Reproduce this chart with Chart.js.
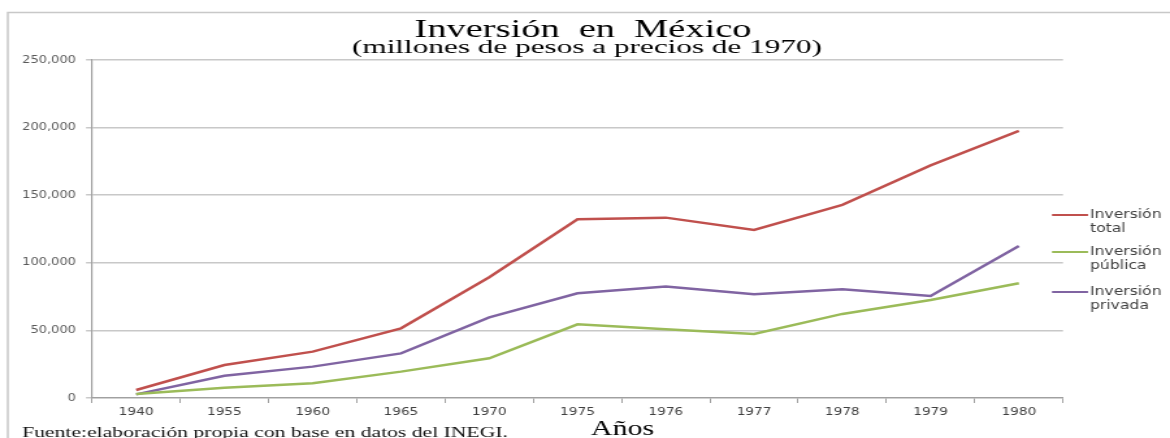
<html>
<head>
    <script src="https://cdn.jsdelivr.net/npm/chart.js@4.4.0/dist/chart.umd.min.js"></script>
    <style>
        body { margin: 0; background: #fff; }
    </style>
</head>

<body>
    <!-- the original image is stretched horizontally, so the canvas is drawn narrower and stretched with css -->
    <canvas id="myChart" width="900" height="438" style="width:1170px;height:438px"></canvas>
    <script>
        // valores (millones de pesos de 1970)
        const years = ['1940', '1955', '1960', '1965', '1970', '1975', '1976', '1977', '1978', '1979', '1980']
        const total = [5900, 24400, 34300, 51500, 89300, 132200, 133400, 124300, 142800, 172000, 197500]
        const publica = [3000, 7600, 10900, 19500, 29400, 54500, 50800, 47400, 62200, 72500, 84900]
        const privada = [2700, 16500, 23200, 33000, 59700, 77500, 82400, 76700, 80400, 75500, 112500]
        const seriesNames = [['Inversión', 'total'], ['Inversión', 'pública'], ['Inversión', 'privada']]
        const colors = ['#c0504d', '#9bbb59', '#8064a2']

        const SX = 1170 / 900
        const serif = '"Liberation Serif", "Times New Roman", serif'
        const sans = '"DejaVu Sans", Verdana, sans-serif'

        // texto serif ajustado a un ancho dado (en px de pantalla)
        function wideText(ctx, text, x, y, width, align) {
            const w = ctx.measureText(text).width
            const iw = width / SX
            ctx.save()
            ctx.textAlign = 'left'
            const x0 = align === 'left' ? x / SX : x / SX - iw / 2
            ctx.translate(x0, y)
            ctx.scale(iw / w, 1)
            ctx.fillText(text, 0, 0)
            ctx.restore()
        }

        // titulo, nota, marco y leyenda dibujados a mano
        const decorations = {
            id: 'decorations',
            beforeDraw(chart) {
                const ctx = chart.ctx
                ctx.save()
                ctx.strokeStyle = '#c8c8c8'
                ctx.lineWidth = 1.5
                ctx.strokeRect(6, 12.5, 1200, 500)
                ctx.restore()
            },
            afterDraw(chart) {
                const ctx = chart.ctx
                const area = chart.chartArea
                ctx.save()
                ctx.fillStyle = '#000'
                ctx.textBaseline = 'alphabetic'
                ctx.font = '25px ' + serif
                wideText(ctx, 'Inversión  en  México', 583, 37, 337)
                ctx.font = '19px ' + serif
                wideText(ctx, '(millones de pesos a precios de 1970)', 587, 53, 470)

                ctx.font = '21px ' + serif
                wideText(ctx, 'Años', (area.left + area.right) / 2 * SX + 45, 435, 63)

                ctx.font = '14px ' + serif
                ctx.fillStyle = '#111'
                wideText(ctx, 'Fuente:elaboración propia con base en datos del INEGI.', 22, 437, 486, 'left')

                // leyenda
                const lx = area.right - 11 / SX
                const ys = [215, 252, 292]
                ctx.font = '12px ' + sans
                ctx.fillStyle = '#404040'
                ctx.textAlign = 'left'
                ctx.textBaseline = 'middle'
                seriesNames.forEach((name, i) => {
                    ctx.strokeStyle = colors[i]
                    ctx.lineWidth = 2
                    ctx.beginPath()
                    ctx.moveTo(lx, ys[i])
                    ctx.lineTo(lx + 36 / SX, ys[i])
                    ctx.stroke()
                    ctx.fillText(name[0], lx + 38 / SX, ys[i])
                    ctx.fillText(name[1], lx + 38 / SX, ys[i] + 14)
                })
                ctx.restore()
            }
        }

        const ctx = document.getElementById('myChart').getContext('2d')
        const myChart = new Chart(ctx, {
            type: 'line',
            data: {
                labels: years,
                datasets: [{
                    label: 'Inversión total',
                    data: total,
                    borderColor: colors[0],
                    borderWidth: 2.5,
                    pointRadius: 0,
                    fill: false
                }, {
                    label: 'Inversión pública',
                    data: publica,
                    borderColor: colors[1],
                    borderWidth: 2.5,
                    pointRadius: 0,
                    fill: false
                }, {
                    label: 'Inversión privada',
                    data: privada,
                    borderColor: colors[2],
                    borderWidth: 2.5,
                    pointRadius: 0,
                    fill: false
                }]
            },
            options: {
                responsive: false,
                animation: false,
                devicePixelRatio: 1,
                layout: { padding: { left: 0, right: 107 / SX, top: 60, bottom: 0 } },
                plugins: {
                    legend: { display: false },
                    tooltip: { enabled: false }
                },
                scales: {
                    x: {
                        offset: true,
                        grid: {
                            offset: true,
                            drawOnChartArea: false,
                            color: '#a0a0a0',
                            tickLength: 5
                        },
                        border: { color: '#a0a0a0', width: 1.2 },
                        ticks: {
                            font: { family: sans, size: 10.5 },
                            color: '#404040',
                            padding: 3,
                            maxRotation: 0
                        },
                        afterFit(scale) { scale.height = 40 }
                    },
                    y: {
                        min: 0,
                        max: 250000,
                        ticks: {
                            stepSize: 50000,
                            font: { family: sans, size: 10 },
                            color: '#595959',
                            padding: 10 / SX,
                            callback: v => v.toLocaleString('en-US')
                        },
                        grid: { color: '#c8c8c8', lineWidth: 1.5, tickLength: 6 / SX },
                        border: { color: '#a0a0a0', width: 1.2 },
                        afterFit(scale) { scale.width = 92 / SX }
                    }
                }
            },
            plugins: [decorations]
        })
    </script>
</body>

</html>
